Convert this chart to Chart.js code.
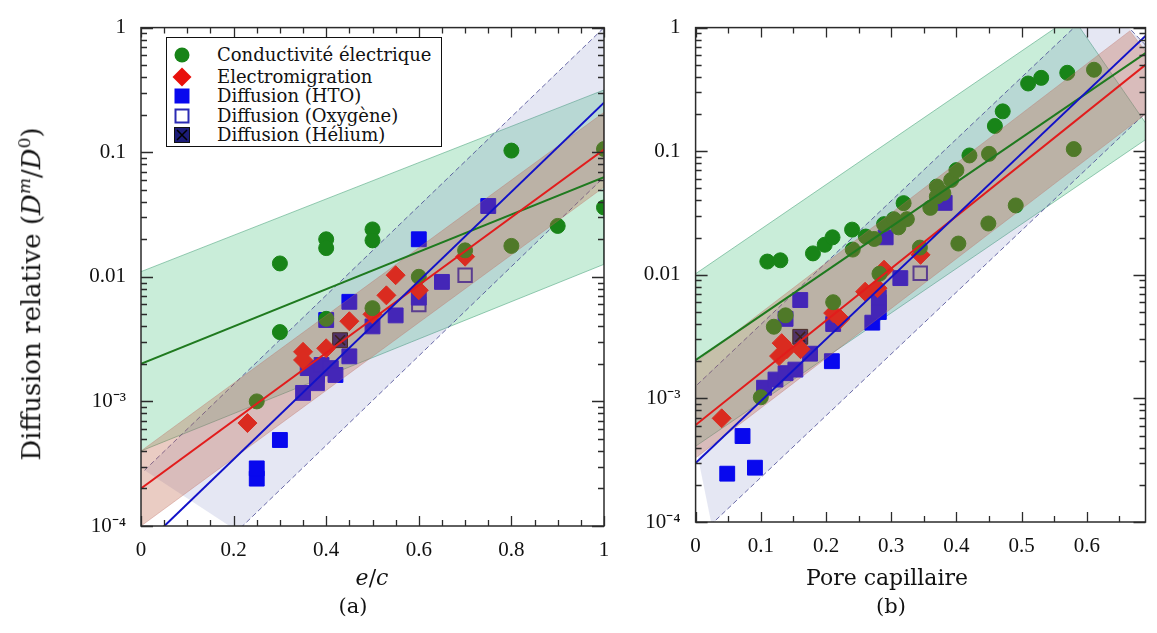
<!DOCTYPE html>
<html>
<head>
<meta charset="utf-8">
<script src="https://cdn.jsdelivr.net/npm/chart.js@4.4.1/dist/chart.umd.min.js"></script>
<style>
    html, body { margin: 0; padding: 0; background: #fff; }
    #wrap { position: relative; width: 1157px; height: 633px; overflow: hidden; font-family: "DejaVu Serif", serif; color: #111; }
    #wrap canvas { position: absolute; top: 0; }
    #ca { left: 0; }
    #cb { left: 640px; }
    .t { position: absolute; white-space: nowrap; transform: translate(-50%, -50%); }
    #ytitle { left: 30px; top: 294px; font-size: 26px; transform: translate(-50%, -50%) rotate(-90deg); }
    #ytitle sup { font-size: 17px; }
    .xt { top: 577px; font-size: 22px; }
    .cap { top: 606px; font-size: 21px; }
    #leg { position: absolute; left: 166px; top: 37px; width: 274px; height: 108px; border: 1.5px solid #111; background: #fff; }
    #leg .row { position: absolute; left: 0; height: 20px; line-height: 20px; font-size: 18px; }
    #leg svg { position: absolute; left: 5px; top: 0; }
    #leg span { position: absolute; left: 50px; top: 0; white-space: nowrap; }
</style>
</head>
<body>
<div id="wrap">
    <canvas id="ca" width="622" height="633"></canvas>
    <canvas id="cb" width="517" height="633"></canvas>

    <div id="leg">
        <div class="row" style="top:7px"><svg width="20" height="20"><circle cx="10" cy="10" r="7.5" fill="#188418"/></svg><span>Conductivité électrique</span></div>
        <div class="row" style="top:29px"><svg width="20" height="20"><polygon points="10,0.5 19.5,10 10,19.5 0.5,10" fill="#e8100c"/></svg><span>Electromigration</span></div>
        <div class="row" style="top:48px"><svg width="20" height="20"><rect x="2.5" y="2.5" width="15" height="15" fill="#0808ee"/></svg><span>Diffusion (HTO)</span></div>
        <div class="row" style="top:68px"><svg width="20" height="20"><rect x="3.5" y="3.5" width="13" height="13" fill="none" stroke="#2a2ab4" stroke-width="2"/></svg><span>Diffusion (Oxygène)</span></div>
        <div class="row" style="top:87px"><svg width="20" height="20"><rect x="2.5" y="2.5" width="15" height="15" fill="#1c1c78" stroke="#111" stroke-width="1"/><path d="M5,5 L15,15 M15,5 L5,15" stroke="#000" stroke-width="1.5"/></svg><span>Diffusion (Hélium)</span></div>
    </div>

    <div class="t" id="ytitle">Diffusion relative (<i>D</i><sup><i>m</i></sup>/<i>D</i><sup>0</sup>)</div>
    <div class="t xt" style="left:372px"><i>e</i>/<i>c</i></div>
    <div class="t xt" style="left:887px">Pore capillaire</div>
    <div class="t cap" style="left:353px">(a)</div>
    <div class="t cap" style="left:891px">(b)</div>
</div>

<script>
(function () {
    'use strict';

    // ---- axis ticks ----
    var yTickVals = [0.0001, 0.001, 0.01, 0.1, 1];
    var yTickLabels = ['10\u207B\u2074', '10\u207B\u00B3', '0.01', '0.1', '1'];
    var xTicksA = [0, 0.2, 0.4, 0.6, 0.8, 1];
    var xLabelsA = ['0', '0.2', '0.4', '0.6', '0.8', '1'];
    var xTicksB = [0, 0.1, 0.2, 0.3, 0.4, 0.5, 0.6];
    var xLabelsB = ['0', '0.1', '0.2', '0.3', '0.4', '0.5', '0.6'];

    // ---- panel (a) : e/c ----
    var condA = [[0.25, 0.0010], [0.30, 0.0128], [0.30, 0.0036], [0.40, 0.020], [0.40, 0.017], [0.40, 0.0046],
        [0.50, 0.024], [0.50, 0.0196], [0.50, 0.0056], [0.60, 0.010], [0.70, 0.0163], [0.80, 0.103],
        [0.80, 0.0177], [0.90, 0.0256], [1.0, 0.106], [1.0, 0.036]];
    var elecA = [[0.23, 0.00067], [0.35, 0.0025], [0.35, 0.00215], [0.40, 0.00267], [0.45, 0.0044], [0.50, 0.0050],
        [0.53, 0.0071], [0.55, 0.0103], [0.60, 0.0078], [0.70, 0.0145]];
    var htoA = [[0.25, 0.00024], [0.25, 0.00029], [0.30, 0.00049], [0.35, 0.00117], [0.36, 0.00185], [0.38, 0.0014],
        [0.38, 0.00163], [0.39, 0.00196], [0.41, 0.00185], [0.42, 0.00163], [0.40, 0.0045], [0.45, 0.0063],
        [0.45, 0.0023], [0.50, 0.0040], [0.55, 0.0049], [0.60, 0.0068], [0.60, 0.020], [0.65, 0.0091], [0.75, 0.037]];
    var oxyA = [[0.60, 0.0060], [0.70, 0.0103]];
    var helA = [[0.43, 0.0031]];
    var fitGreenA = [[0, 0.0020], [1, 0.063]];
    var fitRedA = [[0, 0.0002], [1, 0.105]];
    var fitBlueA = [[0, 0.000066], [1, 0.25]];
    var bandGreenA = [[0, 0.011], [1, 0.316], [1, 0.0126], [0, 0.0004]];
    var bandRedA = [[0, 0.0004], [1, 0.209], [1, 0.0525], [0, 0.0001]];
    var bandBlueA = [[0.0076, 0.00028], [1.1, 2.28], [1.1, 0.144], [0.208, 0.000091]];

    // ---- panel (b) : pore capillaire ----
    var condB = [[0.100, 0.00102], [0.110, 0.0128], [0.120, 0.0038], [0.130, 0.0131], [0.138, 0.0047], [0.180, 0.0149],
        [0.198, 0.0175], [0.210, 0.0201], [0.211, 0.0060], [0.240, 0.0232], [0.241, 0.0160], [0.261, 0.0204],
        [0.274, 0.0195], [0.282, 0.0102], [0.289, 0.0257], [0.304, 0.0282], [0.311, 0.0242], [0.324, 0.0282],
        [0.319, 0.038], [0.344, 0.0166], [0.360, 0.0348], [0.370, 0.0518], [0.370, 0.043], [0.380, 0.0458],
        [0.392, 0.0585], [0.400, 0.0703], [0.403, 0.0179], [0.420, 0.0924], [0.449, 0.026], [0.450, 0.0952],
        [0.459, 0.160], [0.471, 0.210], [0.491, 0.0364], [0.510, 0.353], [0.530, 0.392], [0.570, 0.431],
        [0.580, 0.104], [0.611, 0.456]];
    var elecB = [[0.04, 0.00069], [0.128, 0.0022], [0.132, 0.0028], [0.14, 0.0025], [0.161, 0.0025], [0.211, 0.0049],
        [0.222, 0.0044], [0.26, 0.0073], [0.279, 0.0078], [0.289, 0.011], [0.345, 0.0145]];
    var htoB = [[0.0485, 0.000246], [0.072, 0.000496], [0.091, 0.000275], [0.105, 0.00122], [0.1225, 0.00142],
        [0.138, 0.0016], [0.153, 0.00171], [0.138, 0.0044], [0.1605, 0.00625], [0.1755, 0.0023], [0.209, 0.0020],
        [0.211, 0.0040], [0.271, 0.0041], [0.281, 0.0050], [0.281, 0.0066], [0.2915, 0.0201], [0.314, 0.0094],
        [0.382, 0.0382]];
    var oxyB = [[0.2815, 0.0060], [0.3445, 0.0103]];
    var helB = [[0.1605, 0.00315]];
    var fitGreenB = [[0, 0.00204], [0.69, 0.622]];
    var fitRedB = [[0, 0.00061], [0.69, 0.50]];
    var fitBlueB = [[0, 0.0003], [0.69, 0.857]];
    var bandGreenB = [[0, 0.0102], [0.5775, 1.23], [0.702, 0.137], [0, 0.00041]];
    var bandRedB = [[0, 0.00195], [0.666, 0.94], [0.737, 0.308], [0, 0.00033]];
    var bandBlueB = [[-0.0154, 0.00105], [0.6244, 1.66], [0.7425, 0.372], [0.0244, 0.000096]];

    var TICK_FONT = { family: '"Liberation Serif", "Times New Roman", serif', size: 21 };

    function pts(arr) {
        return arr.map(function (p) { return { x: p[0], y: p[1] }; });
    }

    function band(arr, fillCol, lineCol, dash, order) {
        return { data: pts(arr), fill: 'shape', backgroundColor: fillCol, borderColor: lineCol,
            borderWidth: 1, borderDash: dash, pointRadius: 0, order: order, clip: 0 };
    }

    function marks(arr, style, r, fillCol, lineCol, bw, order) {
        return { data: pts(arr), showLine: false, pointStyle: style, pointRadius: r,
            pointBackgroundColor: fillCol, pointBorderColor: lineCol, pointBorderWidth: bw,
            order: order, clip: 0 };
    }

    function fit(arr, col, order) {
        return { data: pts(arr), fill: false, borderColor: col, borderWidth: 2, pointRadius: 0,
            order: order, clip: 0 };
    }

    // inward ticks on all four sides + box frame
    var frameTicks = {
        id: 'frameTicks',
        afterDatasetsDraw: function (chart, args, o) {
            var ctx = chart.ctx, a = chart.chartArea;
            var xs = chart.scales.x, ys = chart.scales.y;
            var i, e, k, v, px, py, len;
            ctx.save();
            ctx.strokeStyle = '#2b2b2b';
            ctx.lineWidth = 1.3;
            ctx.beginPath();
            var n = Math.round(o.xEnd / o.xStep);
            for (i = 0; i <= n; i++) {
                v = i * o.xStep;
                px = Math.round(xs.getPixelForValue(v)) + 0.5;
                len = Math.abs(v / o.xMajor - Math.round(v / o.xMajor)) < 1e-6 ? 10 : 6;
                ctx.moveTo(px, a.bottom); ctx.lineTo(px, a.bottom - len);
                ctx.moveTo(px, a.top); ctx.lineTo(px, a.top + len);
            }
            for (e = -4; e <= 0; e++) {
                for (k = 1; k <= 9; k++) {
                    if (e === 0 && k > 1) break;
                    py = Math.round(ys.getPixelForValue(k * Math.pow(10, e))) + 0.5;
                    len = k === 1 ? 12 : 6;
                    ctx.moveTo(a.left, py); ctx.lineTo(a.left + len, py);
                    ctx.moveTo(a.right, py); ctx.lineTo(a.right - len, py);
                }
            }
            ctx.stroke();
            ctx.lineWidth = 1.5;
            ctx.strokeRect(a.left, a.top, a.right - a.left, a.bottom - a.top);
            ctx.restore();
        }
    };

    function makePanel(id, d) {
        var datasets = [
            band(d.bandGreen, 'rgba(60,190,120,0.28)', 'rgba(70,160,120,0.55)', [], 20),
            band(d.bandBlue, 'rgba(110,120,190,0.18)', 'rgba(60,60,140,0.75)', [5, 3], 19),
            marks(d.hto, 'rect', 10.5, '#0808ee', '#0808ee', 1, 12),
            marks(d.oxy, 'rect', 9.5, 'rgba(0,0,0,0)', '#2a2ab4', 2, 12),
            marks(d.hel, 'rect', 10.5, '#1c1c78', '#111111', 1, 11),
            marks(d.hel, 'crossRot', 7, '#000000', '#000000', 1.5, 10),
            marks(d.elec, 'rectRot', 9.5, '#e8100c', '#e8100c', 1, 9),
            marks(d.cond, 'circle', 7.5, '#188418', '#188418', 1, 8),
            band(d.bandRed, 'rgba(190,100,72,0.33)', 'rgba(190,110,100,0.35)', [], 5),
            fit(d.fitGreen, '#1f7a1f', 3),
            fit(d.fitRed, '#e21c1c', 2),
            fit(d.fitBlue, '#1212c8', 1)
        ];
        return new Chart(document.getElementById(id), {
            type: 'line',
            data: { datasets: datasets },
            options: {
                responsive: false,
                animation: false,
                events: [],
                layout: { padding: { top: d.top, right: d.right, left: 0, bottom: 0 } },
                plugins: {
                    legend: { display: false },
                    tooltip: { enabled: false },
                    frameTicks: d.ticks
                },
                scales: {
                    x: {
                        type: 'linear', min: 0, max: d.xMax,
                        grid: { display: false, drawTicks: false },
                        border: { display: false },
                        afterBuildTicks: function (s) { s.ticks = d.xTicks.map(function (v) { return { value: v }; }); },
                        afterFit: function (s) { s.height = d.xh; },
                        ticks: {
                            padding: 12, maxRotation: 0, autoSkip: false, color: '#111', font: TICK_FONT,
                            callback: function (v) { var i = d.xTicks.indexOf(v); return i >= 0 ? d.xLabels[i] : ''; }
                        }
                    },
                    y: {
                        type: 'logarithmic', min: 0.0001, max: 1,
                        grid: { display: false, drawTicks: false },
                        border: { display: false },
                        afterBuildTicks: function (s) { s.ticks = yTickVals.map(function (v) { return { value: v }; }); },
                        afterFit: function (s) { s.width = d.yw; },
                        ticks: {
                            padding: 15, autoSkip: false, color: '#111', font: TICK_FONT,
                            callback: function (v) { var i = yTickVals.indexOf(v); return i >= 0 ? yTickLabels[i] : ''; }
                        }
                    }
                }
            },
            plugins: [frameTicks]
        });
    }

    makePanel('ca', {
        cond: condA, elec: elecA, hto: htoA, oxy: oxyA, hel: helA,
        fitGreen: fitGreenA, fitRed: fitRedA, fitBlue: fitBlueA,
        bandGreen: bandGreenA, bandRed: bandRedA, bandBlue: bandBlueA,
        xMax: 1, xTicks: xTicksA, xLabels: xLabelsA,
        top: 25, right: 18, yw: 141, xh: 107,
        ticks: { xStep: 0.05, xMajor: 0.2, xEnd: 1 }
    });

    makePanel('cb', {
        cond: condB, elec: elecB, hto: htoB, oxy: oxyB, hel: helB,
        fitGreen: fitGreenB, fitRed: fitRedB, fitBlue: fitBlueB,
        bandGreen: bandGreenB, bandRed: bandRedB, bandBlue: bandBlueB,
        xMax: 0.69, xTicks: xTicksB, xLabels: xLabelsB,
        top: 18, right: 5.3, yw: 55.6, xh: 111,
        ticks: { xStep: 0.05, xMajor: 0.1, xEnd: 0.65 }
    });
})();
</script>
</body>
</html>
